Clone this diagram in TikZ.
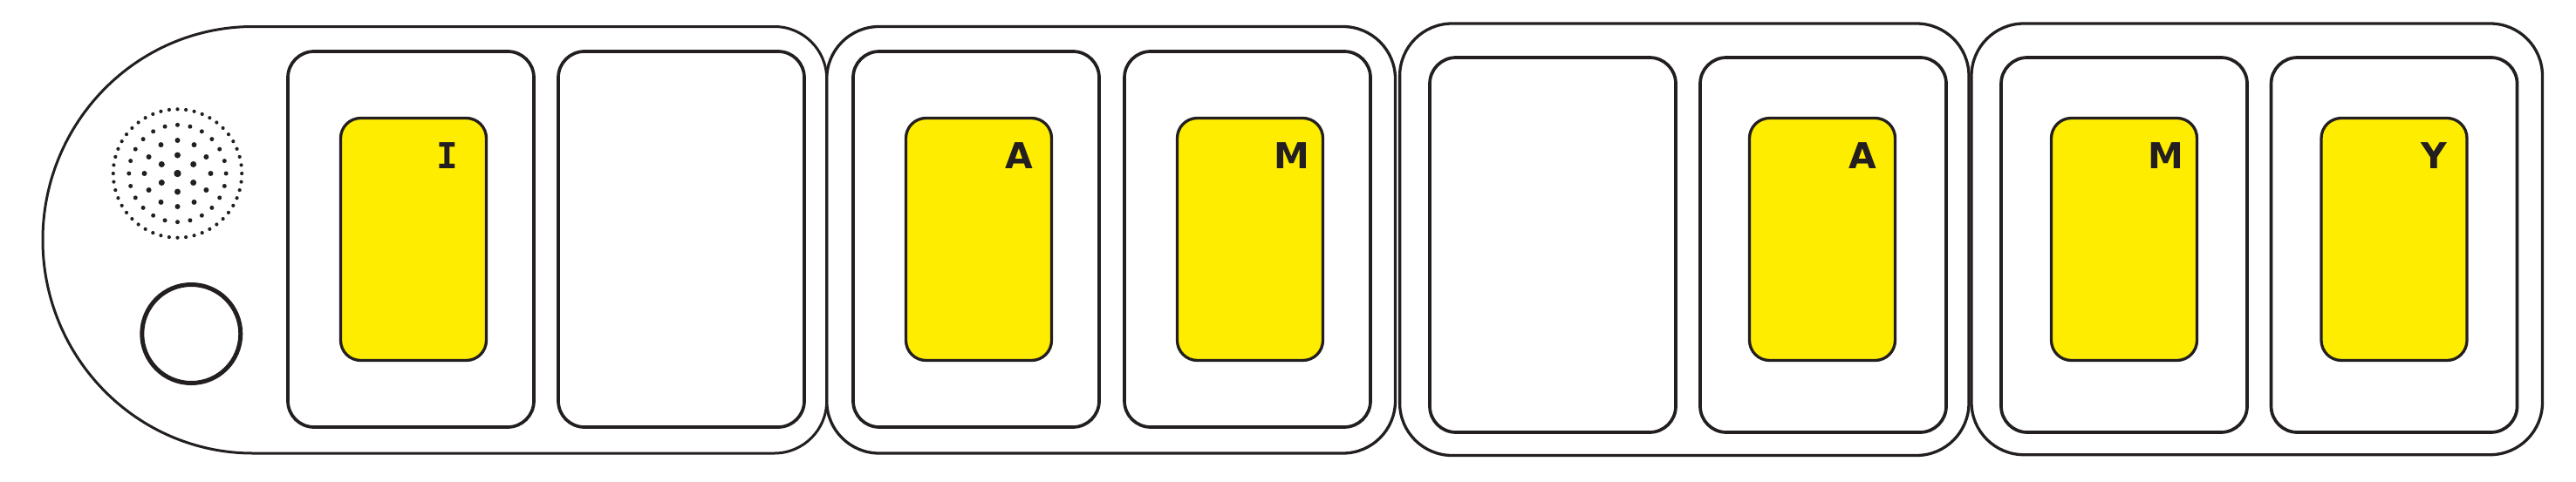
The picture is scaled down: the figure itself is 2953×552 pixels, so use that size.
\documentclass[tikz,border=0pt]{standalone}
\usepackage{fontspec}
\usepackage{tikz}
\usetikzlibrary{calc}
\newfontfamily\tilefont{DejaVu Sans}
\newfontfamily\tilemono{DejaVu Sans Mono}
\definecolor{ink}{HTML}{231F20}
\definecolor{tileyellow}{HTML}{FFED00}

\begin{document}
\begin{tikzpicture}[x=1pt, y=-1pt, inner sep=0pt, outer sep=0pt,
    segbox/.style={draw=ink, line width=3.3pt, rounded corners=60pt, rectangle, anchor=north west},
    card/.style={draw=ink, line width=3.7pt, rounded corners=30pt, rectangle, anchor=north west, minimum width=282pt, minimum height=431pt},
    tile/.style={draw=ink, fill=tileyellow, line width=3.3pt, rounded corners=23pt, rectangle, minimum width=167pt, minimum height=278pt},
    letter/.style={anchor=base west, text=ink, font=\tilefont\bfseries\fontsize{41}{41}\selectfont}]
    \useasboundingbox (0,0) rectangle (2953,552);

    % head with speaker and button
    \draw[ink, line width=3pt] (290,30.5) -- (887.7,30.5)
        arc[start angle=270, end angle=360, radius=60] -- (947.7,460)
        arc[start angle=0, end angle=90, radius=60] -- (290,520)
        arc[start angle=90, end angle=270, x radius=241, y radius=244.75] -- cycle;

    % other segments
    \node[segbox, minimum width=651.8pt, minimum height=489.5pt] (seg_b) at (947.7,30.5) {};
    \node[segbox, minimum width=652.4pt, minimum height=495.5pt] (seg_c) at (1604.6,27) {};
    \node[segbox, minimum width=654.5pt, minimum height=494.7pt] (seg_d) at (2260,27) {};

    % speaker grille
    \coordinate (spk) at (203.5,199);
    \fill[ink] (spk) circle[radius=4.2];
    \foreach \ang in {0,60,...,300}
        \fill[ink] ($(spk)+(90+\ang:21)$) circle[radius=3.5];
    \foreach \ang in {0,30,...,330}
        \fill[ink] ($(spk)+(90+\ang:38)$) circle[radius=3];
    \foreach \ang in {0,15,...,345}
        \fill[ink] ($(spk)+(90+\ang:55.7)$) circle[radius=2.5];
    \foreach \ang in {0,7.5,...,352.5}
        \fill[ink] ($(spk)+(90+\ang:73.7)$) circle[radius=2.1];

    % button
    \node[draw=ink, line width=5pt, circle, minimum size=113pt] (btn) at (219.3,383) {};

    % cards
    \node[card] (card_1) at (330,59) {};
    \node[card] (card_2) at (640,59) {};
    \node[card] (card_3) at (978,59) {};
    \node[card] (card_4) at (1289,59) {};
    \node[card, minimum height=430pt] (card_5) at (1639,66) {};
    \node[card, minimum height=430pt] (card_6) at (1949,66) {};
    \node[card, minimum height=430pt] (card_7) at (2294,66) {};
    \node[card, minimum height=430pt] (card_8) at (2603.5,66) {};

    % yellow tiles
    \node[tile] (tile_1) at ($(card_1.center)+(3,0)$) {};
    \node[tile] (tile_3) at ($(card_3.center)+(3,0)$) {};
    \node[tile] (tile_4) at ($(card_4.center)+(3,0)$) {};
    \node[tile] (tile_6) at ($(card_6.center)+(-1,-6.5)$) {};
    \node[tile] (tile_7) at ($(card_7.center)+(0,-6.5)$) {};
    \node[tile] (tile_8) at ($(card_8.center)+(0,-6.5)$) {};

    % letters
    \node[letter] (lbl_1) at ($(tile_1.west)+(110,-81.5)$) {\tilemono I};
    \node[letter] (lbl_3) at ($(tile_3.west)+(114,-81.5)$) {A};
    \node[letter] (lbl_4) at ($(tile_4.west)+(111,-81.5)$) {M};
    \node[letter] (lbl_6) at ($(tile_6.west)+(114,-81.5)$) {A};
    \node[letter] (lbl_7) at ($(tile_7.west)+(111,-81.5)$) {M};
    \node[letter] (lbl_8) at ($(tile_8.west)+(114,-81.5)$) {Y};
\end{tikzpicture}
\end{document}
